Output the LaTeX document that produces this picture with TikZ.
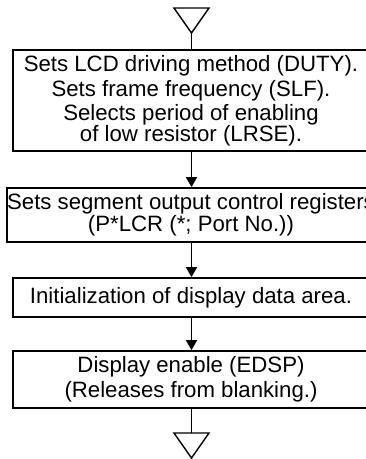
\documentclass[tikz,border=0pt]{standalone}
\usepackage{fontspec}
\setmainfont{Liberation Sans}
\usetikzlibrary{arrows.meta}

\begin{document}
\begin{tikzpicture}[x=1pt,y=-1pt,
  flowbox/.style={draw,line width=1.7pt,minimum width=356pt,inner sep=0pt,align=center,
    font=\fontsize{22.2}{24.5}\selectfont},
  flowarrow/.style={line width=1.7pt,-{Triangle[length=10pt,width=11pt]}}]
\useasboundingbox (0,0) rectangle (366,459);
\clip (0,0) rectangle (366,459);
% terminals
\draw[line width=1.4pt] (174,8) -- (209,8) -- (191.5,33) -- cycle;
\coordinate (startpt) at (191.5,33);
\draw[line width=1.4pt] (174,433) -- (209,433) -- (191.5,458) -- cycle;
\coordinate (endpt) at (191.5,433);
% steps
\node[flowbox,minimum height=101pt] (duty) at (191,100.5) {Sets LCD driving method (DUTY).\\Sets frame frequency (SLF).\\Selects period of enabling\\[-4pt]of low resistor (LRSE).};
\node[flowbox,minimum height=54pt] (plcr) at (191,215) {Sets segment output control registers\\[-2.5pt](P*LCR (*; Port No.))};
\node[flowbox,minimum height=39pt] (init) at (191,297.5) {Initialization of display data area.};
\node[flowbox,minimum height=57pt] (edsp) at (191,379.5) {Display enable (EDSP)\\(Releases from blanking.)};
% connectors
\draw[line width=1.7pt] (startpt) -- (duty.north -| startpt);
\draw[flowarrow] (duty.south -| startpt) -- (plcr.north -| startpt);
\draw[flowarrow] (plcr.south -| startpt) -- (init.north -| startpt);
\draw[flowarrow] (init.south -| startpt) -- (edsp.north -| startpt);
\draw[line width=1.7pt] (edsp.south -| endpt) -- (endpt);
\end{tikzpicture}
\end{document}
